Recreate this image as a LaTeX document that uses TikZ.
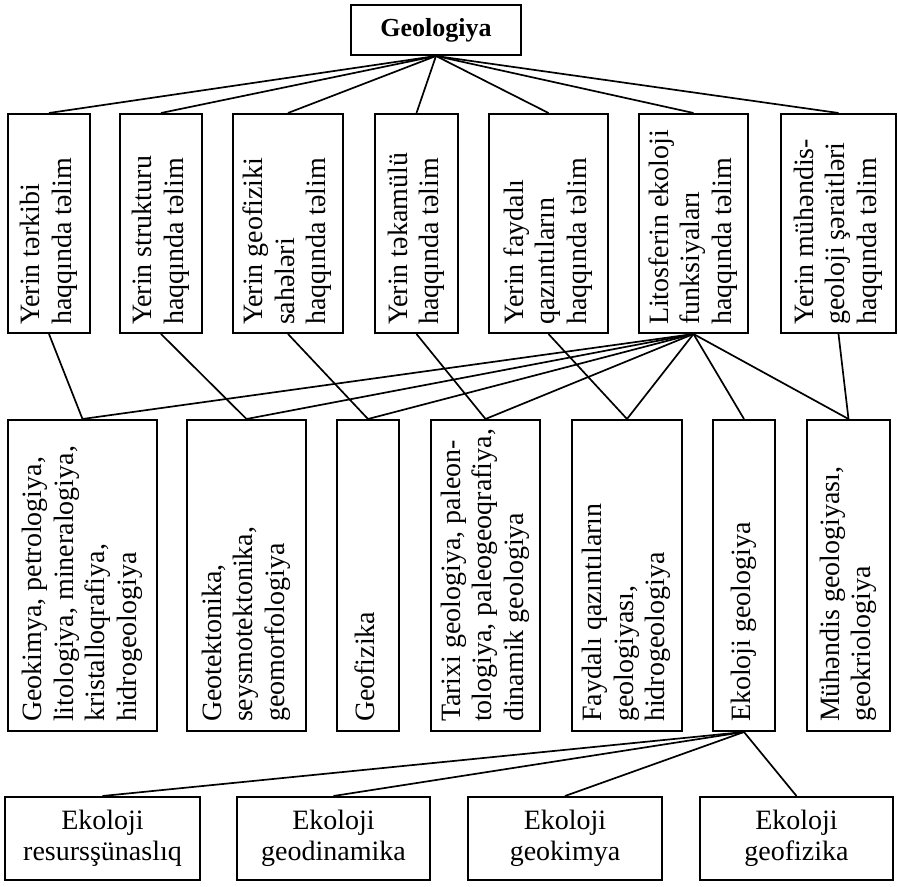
\documentclass[tikz,border=0pt]{standalone}
\usepackage{fontspec}
\setmainfont{Liberation Serif}
\usepackage{graphicx}
% text set upright, then turned to read from bottom to top,
% starting at the lower edge of its box
\newcommand\uplines[2]{\rotatebox{90}{\makebox[#1][l]{\begin{tabular}{@{}l@{}}#2\end{tabular}}}}
\begin{document}
\begin{tikzpicture}[x=1pt,y=1pt,
  box/.style={draw, line width=2pt, inner sep=0pt, fill=white,
              font=\fontsize{28}{31.5}\selectfont},
  wh/.style 2 args={minimum width=#1, minimum height=#2},
  link/.style={line width=1.7pt}]
\useasboundingbox[fill=white] (0,0) rectangle (898,887);

% root
\node[box, wh={170}{50}, font=\fontsize{26}{30}\selectfont\bfseries] (geo) at (436,857) {Geologiya};

% first level: the teachings
\node[box, wh={82}{219}]  (y1) at (49,663.5)    {\uplines{203pt}{Yerin tərkibi\\haqqında təlim}};
\node[box, wh={82}{219}]  (y2) at (161,663.5)   {\uplines{203pt}{Yerin strukturu\\haqqında təlim}};
\node[box, wh={110}{219}] (y3) at (288,663.5)   {\uplines{203pt}{Yerin geofiziki\\sahələri\\haqqında təlim}};
\node[box, wh={83}{219}]  (y4) at (416.5,663.5) {\uplines{203pt}{Yerin təkamülü\\haqqında təlim}};
\node[box, wh={119}{219}] (y5) at (548.5,663.5) {\uplines{203pt}{Yerin faydalı\\qazıntıların\\haqqında təlim}};
\node[box, wh={109}{219}] (y6) at (693.5,663.5) {\uplines{203pt}{Litosferin ekoloji\\funksiyaları\\haqqında təlim}};
\node[box, wh={115}{219}] (y7) at (838.5,663.5) {\uplines{203pt}{Yerin mühəndis-\\geoloji şəraitləri\\haqqında təlim}};

% second level: the sciences
\node[box, wh={149}{311}] (a) at (82.5,311.5)  {\uplines{293pt}{Geokimya, petrologiya,\\litologiya, mineralogiya,\\kristalloqrafiya,\\hidrogeologiya}};
\node[box, wh={119}{311}] (b) at (246.5,311.5) {\uplines{293pt}{Geotektonika,\\seysmotektonika,\\geomorfologiya}};
\node[box, wh={62}{311}]  (c) at (368,311.5)   {\uplines{293pt}{Geofizika}};
\node[box, wh={109}{311}] (d) at (485.5,311.5) {\uplines{293pt}{Tarixi geologiya, paleon-\\tologiya, paleogeoqrafiya,\\dinamik geologiya}};
\node[box, wh={110}{311}] (e) at (627,311.5)   {\uplines{293pt}{Faydalı qazıntıların\\geologiyası,\\hidrogeologiya}};
\node[box, wh={62}{311}]  (f) at (744,311.5)   {\uplines{293pt}{Ekoloji geologiya}};
\node[box, wh={83}{311}]  (g) at (848.5,311.5) {\uplines{293pt}{Mühəndis geologiyası,\\geokriologiya}};

% third level: branches of ecological geology
\node[box, wh={195}{83}, align=center] (r1) at (102.5,48.5) {Ekoloji\\resursşünaslıq};
\node[box, wh={193}{83}, align=center] (r2) at (333.5,48.5) {Ekoloji\\geodinamika};
\node[box, wh={194}{83}, align=center] (r3) at (565,48.5)   {Ekoloji\\geokimya};
\node[box, wh={193}{83}, align=center] (r4) at (796.5,48.5) {Ekoloji\\geofizika};

% connectors
\foreach \n in {y1,y2,y3,y4,y5,y6,y7}
  \draw[link] (geo.south) -- (\n.north);
\draw[link] (y1.south) -- (a.north);
\draw[link] (y2.south) -- (b.north);
\draw[link] (y3.south) -- (c.north);
\draw[link] (y4.south) -- (d.north);
\draw[link] (y5.south) -- (e.north);
\foreach \n in {a,b,c,d,e,f,g}
  \draw[link] (y6.south) -- (\n.north);
\draw[link] (y7.south) -- (g.north);
\foreach \n in {r1,r2,r3,r4}
  \draw[link] (f.south) -- (\n.north);
\end{tikzpicture}
\end{document}
